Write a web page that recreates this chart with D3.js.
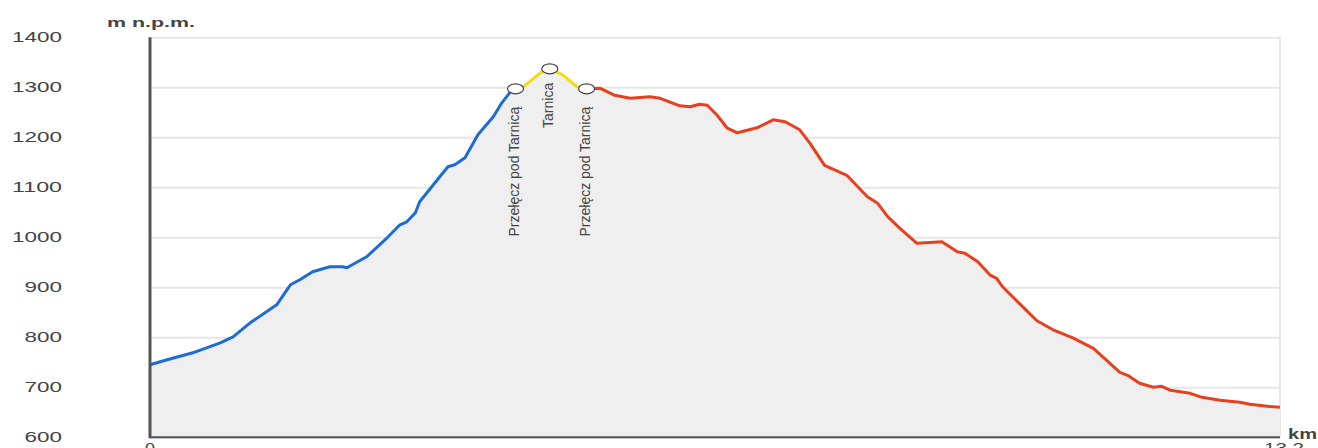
<!DOCTYPE html>
<html>
<head>
<meta charset="utf-8">
<script src="https://cdn.jsdelivr.net/npm/d3@7"></script>
<style>
  html, body { margin: 0; padding: 0; background: #fff; overflow: hidden; }
  text { font-family: "Liberation Sans", Arial, sans-serif; fill: #444; }
</style>
</head>
<body>
<div id="wykres"></div>
<script>
// Profil trasy: podejście (niebieski), grzbiet (żółty), zejście (czerwony)
const podejscieKm   = [0, 0.20, 0.50, 0.82, 0.97, 1.17, 1.48, 1.64, 1.75, 1.90, 2.10, 2.25, 2.30, 2.53, 2.77, 2.92, 3.00, 3.10, 3.15, 3.31, 3.48, 3.56, 3.68, 3.83, 4.01, 4.11, 4.21, 4.27];
const podejscieWys  = [745, 755, 769, 789, 801, 829, 865, 905, 915, 931, 941, 941, 939, 961, 999, 1025, 1031, 1049, 1071, 1105, 1141, 1145, 1159, 1205, 1241, 1269, 1291, 1297];

const grzbietKm     = [4.27, 4.36, 4.56, 4.67, 4.82, 4.99, 5.10];
const grzbietWys    = [1297, 1301, 1329, 1337, 1325, 1301, 1297];

const zejscieKm     = [5.10, 5.26, 5.43, 5.61, 5.84, 5.96, 6.19, 6.31, 6.42, 6.51, 6.62, 6.74, 6.86, 7.09, 7.28, 7.42, 7.59, 7.71, 7.88, 8.14, 8.38, 8.50, 8.62, 8.76, 8.96, 9.25, 9.43, 9.52, 9.67, 9.81, 9.89, 9.96, 10.36, 10.55, 10.78, 11.02, 11.33, 11.42, 11.56, 11.72, 11.82, 11.92, 12.15, 12.29, 12.50, 12.73, 12.85, 13.05, 13.2];
const zejscieWys    = [1297, 1298, 1284, 1278, 1281, 1278, 1263, 1261, 1266, 1264, 1245, 1219, 1209, 1219, 1235, 1231, 1215, 1188, 1144, 1124, 1081, 1068, 1041, 1018, 988, 991, 971, 968, 951, 925, 918, 901, 833, 815, 799, 778, 730, 724, 708, 700, 702, 694, 688, 680, 674, 670, 666, 662, 660];

// Punkty na trasie
const punktyNazwy = ["Przełęcz pod Tarnicą", "Tarnica", "Przełęcz pod Tarnicą"];
const punktyKm    = [4.27, 4.67, 5.10];
const punktyWys   = [1297, 1337, 1297];

// Opisy osi
const ticksY = [600, 700, 800, 900, 1000, 1100, 1200, 1300, 1400];
const ticksX = [0, 13.2];

function rysuj() {
    const W = 1318, H = 448;
    const left = 150, right = 1280, top = 37.3, bottom = 437.3;

    const svg = d3.select("#wykres").append("svg")
        .attr("width", W)
        .attr("height", H);

    const x = d3.scaleLinear().domain([0, 13.2]).range([left, right]);
    const y = d3.scaleLinear().domain([600, 1400]).range([bottom, top]);

    // Siatka pozioma
    const siatka = svg.append("g")
        .attr("transform", `translate(${left},0)`)
        .call(d3.axisLeft(y).tickValues(ticksY).tickSize(-(right - left)).tickFormat(""));
    siatka.select(".domain").remove();
    siatka.selectAll("line").attr("stroke", "#e6e6e6").attr("stroke-width", 2);

    // Prawa ramka
    svg.append("line")
        .attr("x1", right).attr("x2", right)
        .attr("y1", top).attr("y2", bottom)
        .attr("stroke", "#e6e6e6").attr("stroke-width", 2);

    // Wszystkie punkty profilu do wypełnienia
    const cale = [];
    [[podejscieKm, podejscieWys], [grzbietKm, grzbietWys], [zejscieKm, zejscieWys]].forEach(([k, w]) => {
        k.forEach((d, i) => cale.push([d, w[i]]));
    });

    svg.append("path")
        .datum(cale)
        .attr("fill", "#efefef")
        .attr("d", d3.area().x(d => x(d[0])).y0(y(600)).y1(d => y(d[1])));

    // Linie odcinków
    const linia = d3.line().x(d => x(d[0])).y(d => y(d[1]));
    const odcinki = [
        { km: podejscieKm, wys: podejscieWys, kolor: "#1f6bd4" },
        { km: grzbietKm, wys: grzbietWys, kolor: "#f4dc10" },
        { km: zejscieKm, wys: zejscieWys, kolor: "#e8401f" }
    ];
    odcinki.forEach(o => {
        svg.append("path")
            .datum(o.km.map((d, i) => [d, o.wys[i]]))
            .attr("fill", "none")
            .attr("stroke", o.kolor)
            .attr("stroke-width", 3)
            .attr("stroke-linejoin", "round")
            .attr("d", linia);
    });

    // Osie
    svg.append("line")
        .attr("x1", left).attr("x2", left)
        .attr("y1", top).attr("y2", bottom + 1)
        .attr("stroke", "#555").attr("stroke-width", 3);
    svg.append("line")
        .attr("x1", left).attr("x2", right)
        .attr("y1", bottom).attr("y2", bottom)
        .attr("stroke", "#555").attr("stroke-width", 2);

    // Etykiety osi Y
    svg.selectAll(".ty").data(ticksY).enter().append("text")
        .attr("x", 62)
        .attr("y", d => y(d))
        .attr("dy", "0.36em")
        .attr("text-anchor", "end")
        .attr("font-size", 14)
        .attr("textLength", d => String(d).length * 12.5)
        .attr("lengthAdjust", "spacingAndGlyphs")
        .text(d => d);

    // Etykiety osi X
    svg.selectAll(".tx").data(ticksX).enter().append("text")
        .attr("x", d => x(d) + (d > 0 ? 4 : 0))
        .attr("y", 453)
        .attr("text-anchor", "middle")
        .attr("font-size", 14)
        .attr("textLength", d => String(d).length * 10)
        .attr("lengthAdjust", "spacingAndGlyphs")
        .text(d => d);

    svg.append("text")
        .attr("x", 107).attr("y", 27)
        .attr("font-size", 12)
        .attr("font-weight", "bold")
        .attr("textLength", 88)
        .attr("lengthAdjust", "spacingAndGlyphs")
        .text("m n.p.m.");

    svg.append("text")
        .attr("x", 1288).attr("y", 439)
        .attr("font-size", 14)
        .attr("font-weight", "bold")
        .attr("textLength", 29)
        .attr("lengthAdjust", "spacingAndGlyphs")
        .text("km");

    // Punkty i opisy
    punktyNazwy.forEach((nazwa, i) => {
        const px = x(punktyKm[i]), py = y(punktyWys[i]);
        svg.append("text")
            .attr("transform", `translate(${px + 3},${py + (i === 1 ? 14 : 18)}) rotate(-90)`)
            .attr("text-anchor", "end")
            .attr("font-family", "Liberation Sans Narrow, Liberation Sans, sans-serif")
            .attr("font-size", 14)
            .attr("fill", "#333")
            .text(nazwa);
        svg.append("ellipse")
            .attr("cx", px).attr("cy", py)
            .attr("rx", 8).attr("ry", 5)
            .attr("fill", "#fff")
            .attr("stroke", "#444")
            .attr("stroke-width", 1.2);
    });
}

document.addEventListener('DOMContentLoaded', rysuj);
</script>
</body>
</html>
